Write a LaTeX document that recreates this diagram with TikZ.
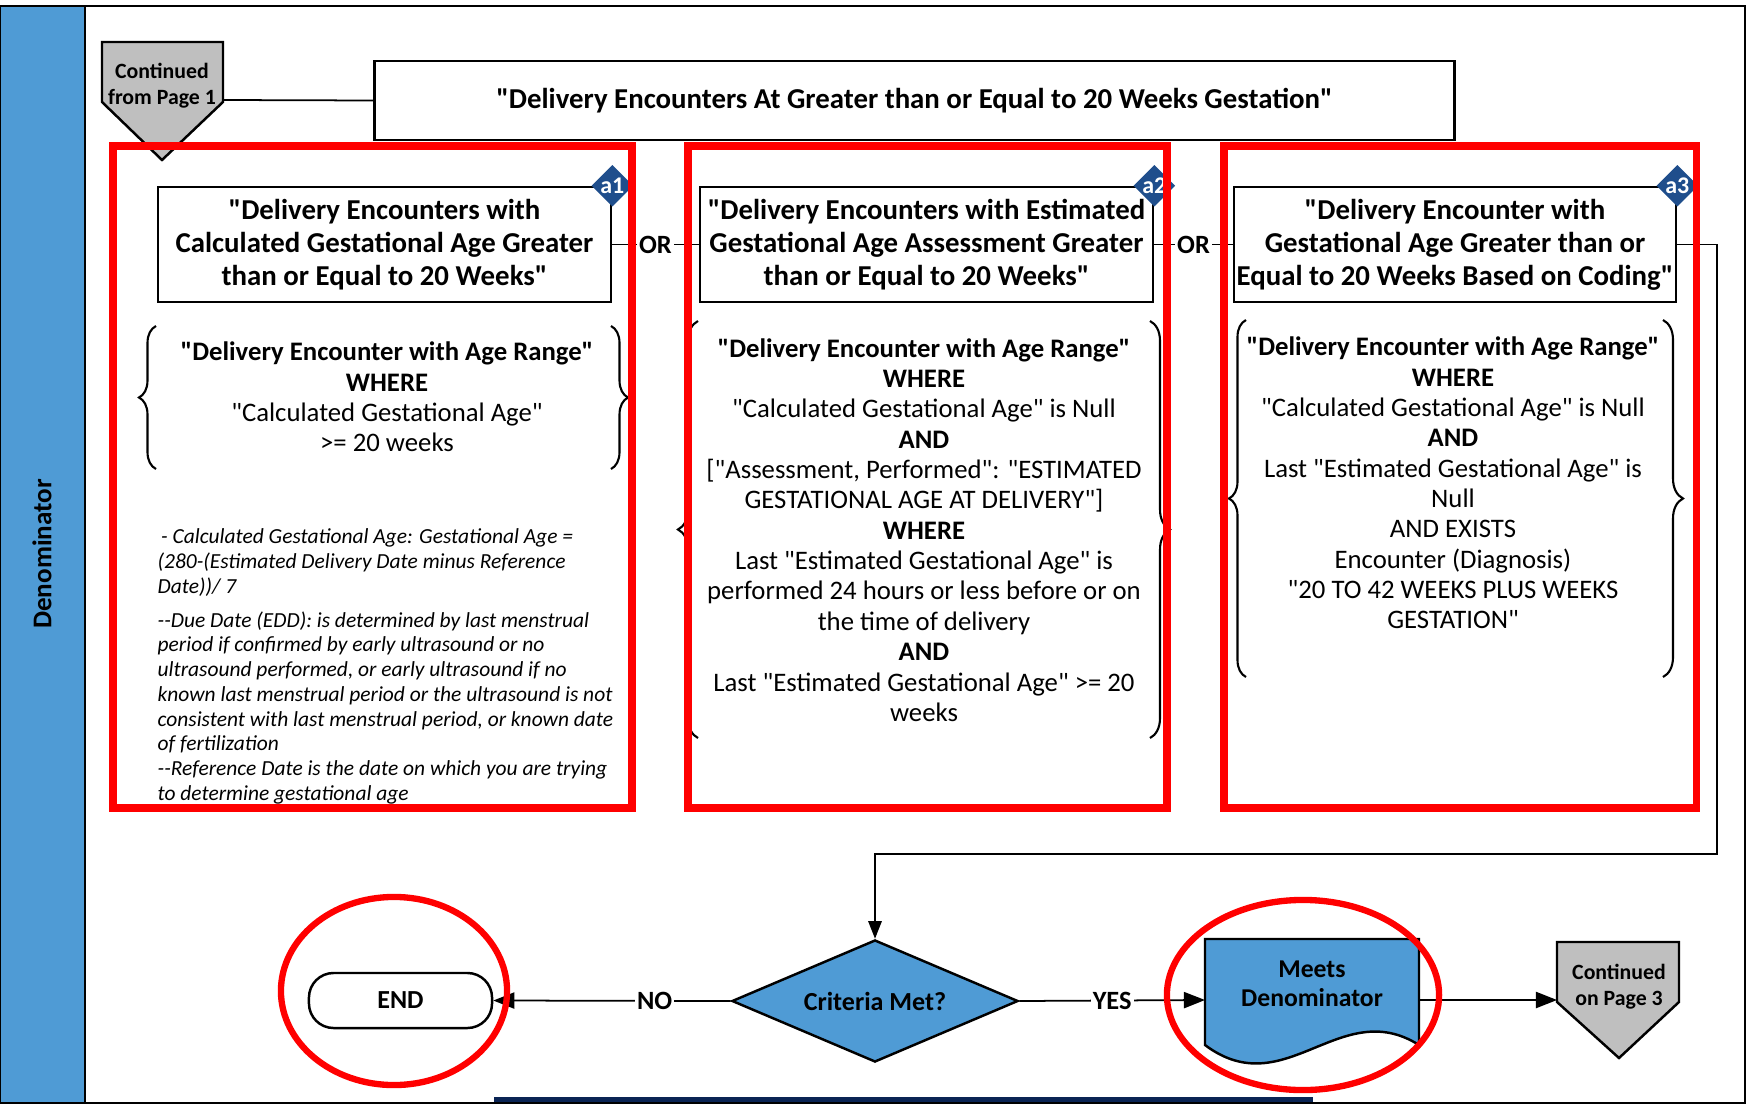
\documentclass[tikz,border=0pt]{standalone}
\usepackage{fontspec}
\setmainfont{Carlito}[Ligatures=TeXOff]
\usetikzlibrary{shapes.geometric,arrows.meta,decorations.pathreplacing,calc}
\definecolor{lane}{RGB}{79,155,213}
\definecolor{tagblue}{RGB}{31,78,140}
\definecolor{navy}{RGB}{10,36,84}
\definecolor{offgray}{RGB}{191,191,191}
\definecolor{markred}{RGB}{255,0,0}
\begin{document}
\begin{tikzpicture}[x=0.01cm,y=-0.01cm,
    every node/.style={align=center,inner sep=0pt,font=\fontsize{7.6}{8.63}\selectfont},
    hdrbox/.style={draw,line width=0.7pt,minimum width=4.53cm,minimum height=1.15cm,font=\fontsize{8.2}{9.36}\selectfont\bfseries},
    tag/.style={diamond,fill=tagblue,text=white,minimum size=0.42cm,font=\fontsize{6.8}{7}\selectfont\bfseries},
    lbl/.style={fill=white,inner sep=0.6pt,font=\fontsize{7.5}{8}\selectfont\bfseries},
    brc/.style={decorate,decoration={brace,amplitude=0.17cm},line width=0.6pt},
    offpage/.style={draw,fill=offgray,line width=0.7pt},
    offtext/.style={font=\fontsize{6.2}{7.4}\selectfont\bfseries},
    redbox/.style={draw=markred,line width=2pt},
    redring/.style={draw=markred,line width=1.8pt},
    arr/.style={-{Triangle[length=6pt,width=4.6pt]},line width=0.5pt}]
  \useasboundingbox (0,0) rectangle (1748,1106);
  % swimlane and frame
  \fill[lane] (0,6) rectangle (85,1103);
  \draw[line width=0.8pt] (0,6) rectangle (1745,1103) (85,6) -- (85,1103);
  \fill[navy] (494,1097) rectangle (1313,1102);
  \node[rotate=90,font=\fontsize{7.7}{8}\selectfont\bfseries] (lane) at (42,554) {Denominator};
  % top of the page
  \draw[offpage] (102,42) -- (223,42) -- (223,102) -- (162,160) -- (102,102) -- cycle;
  \node[offtext] (from1) at (162,86) {Continued\\from Page 1};
  \coordinate (from1out) at (223,100);
  \node[draw,line width=0.7pt,minimum width=10.79cm,minimum height=0.79cm,font=\fontsize{8.2}{9}\selectfont\bfseries]
    (title) at (914.5,100.5) {"Delivery Encounters At Greater than or Equal to 20 Weeks Gestation"};
  \draw[line width=0.5pt] (from1out) -- (title.west);
  % the three branches
  \node[hdrbox] (b1) at (384.5,244.5) {"Delivery Encounters with\\Calculated Gestational Age Greater\\than or Equal to 20 Weeks"};
  \node[hdrbox] (b2) at (926.5,244.5) {"Delivery Encounters with Estimated\\Gestational Age Assessment Greater\\than or Equal to 20 Weeks"};
  \node[hdrbox,minimum width=4.42cm] (b3) at (1455,244.5) {"Delivery Encounter with\\Gestational Age Greater than or\\Equal to 20 Weeks Based on Coding"};
  \draw[line width=0.5pt] (b1.east) -- node[lbl]{OR} (b2.west);
  \draw[line width=0.5pt] (b2.east) -- node[lbl]{OR} (b3.west);
  \node[tag] (a1) at (b1.north east) {a1};
  \node[tag] (a2) at (b2.north east) {a2};
  \node[tag] (a3) at (b3.north east) {a3};
  % criteria in braces
  \draw[brc] (156,469) -- (156,326);
  \draw[brc] (611,326) -- (611,469);
  \node (q1) at (387,397) {\textbf{"Delivery Encounter with Age Range"}\\\textbf{WHERE}\\"Calculated Gestational Age"\\>= 20 weeks};
  \draw[brc,decoration={amplitude=0.2cm}] (698,738) -- (698,321);
  \draw[brc,decoration={amplitude=0.2cm}] (1150,321) -- (1150,738);
  \node (q2) at (924,530) {\textbf{"Delivery Encounter with Age Range"}\\\textbf{WHERE}\\"Calculated Gestational Age" is Null\\\textbf{AND}\\{[}"Assessment, Performed": "ESTIMATED\\GESTATIONAL AGE AT DELIVERY"]\\\textbf{WHERE}\\Last "Estimated Gestational Age" is\\performed 24 hours or less before or on\\the time of delivery\\\textbf{AND}\\Last "Estimated Gestational Age" >= 20\\weeks};
  \draw[brc] (1246,677) -- (1246,320);
  \draw[brc,decoration={amplitude=0.2cm}] (1663,320) -- (1663,677);
  \node (q3) at (1453,483) {\textbf{"Delivery Encounter with Age Range"}\\\textbf{WHERE}\\"Calculated Gestational Age" is Null\\\textbf{AND}\\Last "Estimated Gestational Age" is\\Null\\AND EXISTS\\Encounter (Diagnosis)\\"20 TO 42 WEEKS PLUS WEEKS\\GESTATION"};
  \node[anchor=north west,align=left,font=\fontsize{6.1}{7.03}\selectfont\itshape] (notes) at (157,528)
    {\hspace{1pt}- Calculated Gestational Age: Gestational Age =\\(280-(Estimated Delivery Date minus Reference\\Date))/ 7\\[2.7pt]
     --Due Date (EDD): is determined by last menstrual\\period if confirmed by early ultrasound or no\\ultrasound performed, or early ultrasound if no\\known last menstrual period or the ultrasound is not\\consistent with last menstrual period, or known date\\of fertilization\\--Reference Date is the date on which you are trying\\to determine gestational age};
  % decision row
  \node[diamond,draw,fill=lane,line width=0.7pt,aspect=2.34,minimum width=2.86cm,minimum height=1.22cm,
    font=\fontsize{7.4}{8}\selectfont\bfseries] (crit) at (875,1001) {Criteria Met?};
  \node[draw,rounded corners=7pt,line width=0.7pt,minimum width=1.83cm,minimum height=0.55cm,
    font=\fontsize{7.4}{8}\selectfont\bfseries] (end) at (400.5,1000.5) {END};
  \filldraw[fill=lane,line width=0.7pt] (1205,939) -- (1419,939) -- (1419,1045)
    .. controls (1340,995) and (1285,1105) .. (1205,1045) -- cycle;
  \node[font=\fontsize{7.3}{8.25}\selectfont\bfseries] (meets) at (1312,984) {Meets\\Denominator};
  \coordinate (meetsin) at (1205,1000);
  \coordinate (meetsout) at (1419,1000);
  \draw[offpage] (1557,942) -- (1679,942) -- (1679,1002) -- (1619,1058) -- (1557,1002) -- cycle;
  \node[offtext] (to3) at (1619,987) {Continued\\on Page 3};
  \coordinate (to3in) at (1557,1000);
  \coordinate (bend) at (1717,854);
  \draw[arr,-{Triangle[length=5pt,width=3.8pt]}] (b3.east) -| (bend) -| (crit.north);
  \draw[arr] (crit.west) -- node[lbl,pos=0.32]{NO} (end.east);
  \draw[arr] (crit.east) -- node[lbl]{YES} (meetsin);
  \draw[arr] (meetsout) -- (to3in);
  % red highlight marks
  \draw[redbox] (113,146) rectangle (632,808);
  \draw[redbox] (688,146) rectangle (1167,808);
  \draw[redbox] (1224,146) rectangle (1696,808);
  \draw[redring] (394,991) ellipse [x radius=1.13cm,y radius=0.94cm];
  \draw[redring] (1303,995) ellipse [x radius=1.36cm,y radius=0.95cm];
\end{tikzpicture}
\end{document}
